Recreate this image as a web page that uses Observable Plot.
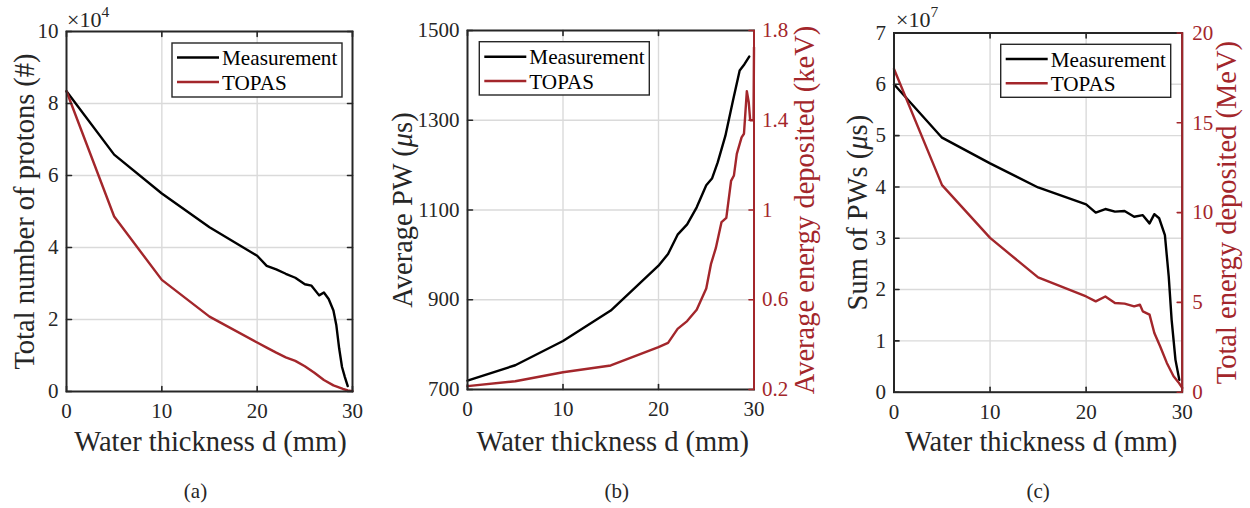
<!DOCTYPE html>
<html>
<head>
<meta charset="utf-8">
<script src="https://cdn.jsdelivr.net/npm/d3@7"></script>
<script src="https://cdn.jsdelivr.net/npm/@observablehq/plot@0.6"></script>
<style>
  body { margin: 0; background: #fff; }
  #wrap { position: relative; width: 1250px; height: 508px; overflow: hidden; background: #fff; }
  .panel { position: absolute; top: 0; }
  .panel svg, .panel svg text { font-family: "Liberation Serif", "Times New Roman", serif; }
</style>
</head>
<body>
<div id="wrap"></div>
<script>
// ---------------- DATA ----------------
const xTicks = [0, 10, 20, 30];
const seriesNames = ["Measurement", "TOPAS"];
const xLabel = "Water thickness d (mm)";

// (a) Total number of protons (x 1e4)
const measA_d = [0, 5, 10, 15, 20, 21, 22, 23, 24, 25, 25.7, 26.5, 27, 27.5, 28, 28.3, 28.6, 28.9, 29.2, 29.5];
const measA_v = [8.34, 6.58, 5.5, 4.56, 3.77, 3.49, 3.39, 3.27, 3.16, 2.98, 2.94, 2.67, 2.75, 2.57, 2.25, 1.85, 1.2, 0.68, 0.4, 0.15];
const topasA_d = [0, 5, 10, 15, 20, 21, 22, 23, 24, 25, 26, 27, 28, 29, 29.5, 30];
const topasA_v = [8.34, 4.86, 3.10, 2.08, 1.36, 1.22, 1.08, 0.95, 0.85, 0.70, 0.52, 0.32, 0.17, 0.07, 0.03, 0.01];
const yTicksA = [0, 2, 4, 6, 8, 10];

// (b) Average PW (us) and average energy deposited (keV)
const measB_d = [0, 5, 10, 15, 20, 21, 22, 23, 24, 25, 25.6, 26.2, 27, 27.8, 28.5, 29, 29.5];
const measB_v = [720, 754, 808, 876, 976, 1002, 1045, 1068, 1106, 1155, 1170, 1206, 1265, 1344, 1411, 1425, 1442];
const topasB_d = [0, 5, 10, 15, 20, 21, 22, 23, 24, 25, 25.5, 26, 26.6, 27.1, 27.6, 27.9, 28.2, 28.7, 28.95, 29.25, 29.45, 29.6, 29.95, 30];
const topasB_v = [0.215, 0.237, 0.277, 0.307, 0.389, 0.408, 0.47, 0.505, 0.555, 0.65, 0.76, 0.83, 0.946, 0.965, 1.13, 1.154, 1.25, 1.324, 1.34, 1.53, 1.48, 1.40, 1.40, 1.725];
const yTicksB = [700, 900, 1100, 1300, 1500];
const rTicksB = [0.2, 0.6, 1, 1.4, 1.8];

// (c) Sum of PWs (x 1e7 us) and total energy deposited (MeV)
const measC_d = [0, 5, 10, 15, 20, 21, 22, 23, 24, 25, 25.9, 26.6, 27.1, 27.6, 28.2, 28.6, 28.9, 29.3, 29.7];
const measC_v = [6.0, 4.96, 4.46, 3.99, 3.66, 3.50, 3.57, 3.52, 3.53, 3.42, 3.45, 3.29, 3.47, 3.39, 3.06, 2.25, 1.41, 0.63, 0.24];
const topasC_d = [0, 5, 10, 15, 20, 21, 22, 23, 24, 25, 25.6, 25.9, 26.6, 27.1, 27.7, 28.4, 29.1, 29.6, 30];
const topasC_v = [18.0, 11.53, 8.59, 6.39, 5.33, 5.06, 5.33, 4.97, 4.93, 4.78, 4.87, 4.5, 4.32, 3.3, 2.56, 1.63, 0.89, 0.56, 0.24];
const yTicksC = [0, 1, 2, 3, 4, 5, 6, 7];
const rTicksC = [0, 5, 10, 15, 20];

// ---------------- STYLE ----------------
const FONT = "Liberation Serif, Times New Roman, serif";
const RED = "#a3262b";
const INK = "#262626";
const GRID = "#dadada";
const LW = 2.4;
const TL = 5;
const LABEL_FS = 28.5;
const TICK_FS = 21;
const tickShape = { draw(ctx, l) { ctx.moveTo(0, 0); ctx.lineTo(0, -l); } };

function buildPanel(o) {
  const [x0, x1] = o.xDomain, [y0, y1] = o.yDomain;
  const toLeft = o.toLeft || (v => v);
  const meas = o.measD.map((d, i) => ({ d, v: o.measV[i] }));
  const topas = o.topasD.map((d, i) => ({ d, v: toLeft(o.topasV[i]) }));
  const tickStyle = { length: TL, anchor: "start", shape: tickShape, strokeWidth: 1.6 };
  const marks = [
    Plot.gridX(xTicks.filter(t => t > x0 && t < x1), { stroke: GRID, strokeOpacity: 1, strokeWidth: 1.4 }),
    Plot.gridY(o.yTicks.filter(t => t > y0 && t < y1), { stroke: GRID, strokeOpacity: 1, strokeWidth: 1.4 }),
    Plot.line(meas, { x: "d", y: "v", stroke: "#000", strokeWidth: LW }),
    Plot.line(topas, { x: "d", y: "v", stroke: RED, strokeWidth: LW }),
    Plot.frame({ stroke: INK, strokeWidth: 2 }),
    Plot.vector(xTicks, { x: d => d, y: y0, rotate: 0, stroke: INK, ...tickStyle }),
    Plot.vector(xTicks, { x: d => d, y: y1, rotate: 180, stroke: INK, ...tickStyle }),
    Plot.vector(o.yTicks, { x: x0, y: d => d, rotate: 90, stroke: INK, ...tickStyle }),
    Plot.axisX(xTicks, { tickSize: 0, tickPadding: 12, fontSize: TICK_FS, fontFamily: FONT, label: null, tickFormat: d => String(d) }),
    Plot.axisY(o.yTicks, { tickSize: 0, tickPadding: 8, fontSize: TICK_FS, fontFamily: FONT, label: null, tickFormat: d => String(d) }),
    Plot.text([xLabel], { text: d => d, frameAnchor: "bottom", dy: o.xlDy, dx: o.xlDx, fontSize: LABEL_FS, fontFamily: FONT, lineAnchor: "middle", textAnchor: "middle", fill: INK }),
    Plot.text([o.caption], { text: d => d, frameAnchor: "bottom", dy: o.capDy, dx: o.capDx, fontSize: 21, fontFamily: FONT, lineAnchor: "middle", textAnchor: "middle", fill: INK }),
    Plot.text([o.yLabel], { text: d => d, frameAnchor: "left", dx: o.ylDx, rotate: -90, fontSize: LABEL_FS, fontFamily: FONT, lineAnchor: "middle", textAnchor: "middle", fill: INK })
  ];
  if (o.rTicks) {
    const rPos = o.rTicks.map(t => Math.round(toLeft(t) * 1e6) / 1e6);
    const fmt = new Map(rPos.map((p, i) => [p, String(o.rTicks[i])]));
    marks.push(
      Plot.ruleX([x1], { stroke: RED, strokeWidth: 2 }),
      Plot.vector(rPos, { x: x1, y: d => d, rotate: 270, stroke: RED, ...tickStyle }),
      Plot.axisY(rPos, { anchor: "right", tickSize: 0, tickPadding: o.rPad, fontSize: TICK_FS, fontFamily: FONT, label: null, color: RED, tickFormat: d => fmt.get(d) }),
      Plot.text([o.rLabel], { text: d => d, frameAnchor: "right", dx: o.rlDx, rotate: -90, fontSize: LABEL_FS, fontFamily: FONT, lineAnchor: "middle", textAnchor: "middle", fill: RED })
    );
  } else {
    marks.push(Plot.vector(o.yTicks, { x: x1, y: d => d, rotate: 270, stroke: INK, ...tickStyle }));
  }
  const svg = Plot.plot({
    width: o.width, height: 508,
    marginLeft: o.m[0], marginRight: o.m[1], marginTop: o.m[2], marginBottom: o.m[3],
    x: { domain: o.xDomain }, y: { domain: o.yDomain },
    style: "font-family: 'Liberation Serif', 'Times New Roman', serif; font-size: 20px; color: #262626; background: transparent; overflow: visible;",
    marks
  });
  // italic mu
  svg.querySelectorAll("text").forEach(t => {
    if (t.textContent.includes("μ")) {
      const parts = t.textContent.split("μ");
      t.textContent = "";
      const s = d3.select(t);
      s.append("tspan").text(parts[0]);
      s.append("tspan").attr("font-style", "italic").text("μ");
      s.append("tspan").text(parts[1]);
    }
  });
  const g = d3.select(svg).append("g").attr("text-anchor", "start").attr("font-family", FONT);
  // legend
  const L = o.legend;
  g.append("rect").attr("x", L.x).attr("y", L.y).attr("width", L.w).attr("height", L.h)
    .attr("fill", "#fff").attr("stroke", INK).attr("stroke-width", 1.4);
  [["#000", L.l1], [RED, L.l2]].forEach(([c, yy], i) => {
    g.append("line").attr("x1", L.lx).attr("x2", L.lx + 42).attr("y1", yy).attr("y2", yy)
      .attr("stroke", c).attr("stroke-width", LW);
    g.append("text").attr("x", L.lx + 45).attr("y", yy + 7.5).attr("font-size", 21.2)
      .attr("text-anchor", "start").attr("fill", "#000").text(seriesNames[i]);
  });
  if (o.exp) {
    const t = g.append("text").attr("x", o.exp.x).attr("y", 26.5).attr("font-size", 22)
      .attr("text-anchor", "start").attr("fill", INK);
    t.append("tspan").text("×10");
    t.append("tspan").attr("font-size", 15.5).attr("dy", -9.5).text(o.exp.p);
  }
  const div = document.createElement("div");
  div.className = "panel";
  div.style.left = o.left + "px";
  div.appendChild(svg);
  document.getElementById("wrap").appendChild(div);
}

buildPanel({
  left: 0, width: 400, m: [66, 48, 31, 117],
  xDomain: [0, 30], yDomain: [0, 10], yTicks: yTicksA,
  measD: measA_d, measV: measA_v, topasD: topasA_d, topasV: topasA_v,
  yLabel: "Total number of protons (#)", ylDx: -42,
  xlDy: 50, xlDx: 1, caption: "(a)", capDy: 100, capDx: -14,
  legend: { x: 172, y: 43, w: 170, h: 54, lx: 177, l1: 57.5, l2: 82 },
  exp: { x: 67, p: "4" }
});

buildPanel({
  left: 400, width: 420, m: [67, 66.5, 30, 119],
  xDomain: [0, 30], yDomain: [700, 1500], yTicks: yTicksB,
  measD: measB_d, measV: measB_v, topasD: topasB_d, topasV: topasB_v,
  toLeft: r => 700 + (r - 0.2) * 500,
  rTicks: rTicksB, rPad: 8, rLabel: "Average energy deposited (keV)", rlDx: 51,
  yLabel: "Average PW (μs)", ylDx: -65,
  xlDy: 52, xlDx: 2, caption: "(b)", capDy: 102, capDx: 6,
  legend: { x: 79.3, y: 41.7, w: 170, h: 53.3, lx: 84.3, l1: 56.7, l2: 81 }
});

buildPanel({
  left: 820, width: 430, m: [73.5, 68.3, 32.5, 116.3],
  xDomain: [0, 30], yDomain: [0, 7], yTicks: yTicksC,
  measD: measC_d, measV: measC_v, topasD: topasC_d, topasV: topasC_v,
  toLeft: r => r * 7 / 20,
  rTicks: rTicksC, rPad: 10, rLabel: "Total energy deposited (MeV)", rlDx: 45,
  yLabel: "Sum of PWs (μs)", ylDx: -36,
  xlDy: 49.3, xlDx: 3, caption: "(c)", capDy: 99.3, capDx: 0,
  legend: { x: 180.7, y: 44.3, w: 170, h: 53, lx: 185.7, l1: 59, l2: 83.3 },
  exp: { x: 76, p: "7" }
});
</script>
</body>
</html>
